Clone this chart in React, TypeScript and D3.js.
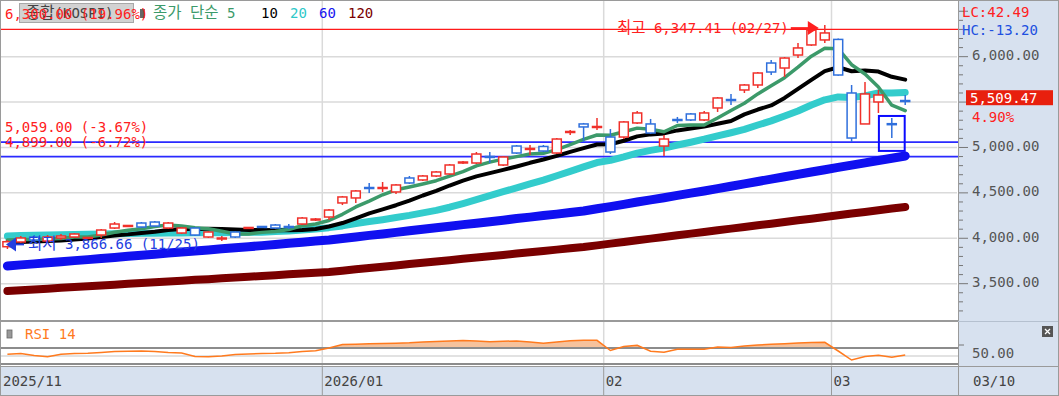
import React from "react";
import * as d3 from "d3";

// ---------- data ----------
const dates = ["11/26","11/27","11/28","12/01","12/02","12/03","12/04","12/05","12/08","12/09","12/10","12/11","12/12","12/15","12/16","12/17","12/18","12/19","12/22","12/23","12/24","12/26","12/29","12/30","01/02","01/05","01/06","01/07","01/08","01/09","01/12","01/13","01/14","01/15","01/16","01/19","01/20","01/21","01/22","01/23","01/26","01/27","01/28","01/29","01/30","02/02","02/03","02/04","02/05","02/06","02/09","02/10","02/11","02/12","02/13","02/19","02/20","02/23","02/24","02/25","02/26","02/27","03/03","03/04","03/05","03/06","03/09","03/10"];
const open = [3907,3959,4014,3970,4003,4014,3998,4036,4113,4130,4168,4179,4113,4058,4113,4014,3998,4069,4108,4130,4146,4130,4157,4201,4234,4389,4444,4559,4548,4510,4664,4642,4686,4708,4829,4829,4901,4807,5016,4978,5011,4939,5165,5259,5220,5115,5115,5270,5259,5016,5308,5369,5303,5435,5528,5633,5688,5930,5875,6018,6129,6184,6190,5600,5259,5501,5262,5517];
const high = [3981,4025,4036,4036,4047,4058,4014,4102,4179,4146,4179,4190,4179,4124,4124,4080,4025,4080,4124,4135,4157,4157,4234,4223,4322,4466,4532,4609,4620,4598,4686,4697,4741,4818,4851,4950,4950,4906,5027,5027,5027,5104,5192,5270,5325,5203,5292,5402,5314,5137,5336,5380,5402,5556,5589,5699,5831,5963,5996,6151,6316,6347.41,6200,5688,5721,5633,5325,5578];
const low = [3882,3948,3959,3948,3981,4003,3992,4003,4102,4124,4113,4124,4102,4047,4025,4003,3970,4003,4102,4113,4102,4102,4146,4190,4201,4366,4389,4499,4510,4488,4598,4631,4675,4697,4818,4818,4829,4796,4928,4917,4950,4928,5137,5060,5192,4928,5093,5259,5148,4906,5270,5292,5292,5391,5468,5600,5655,5798,5776,5985,6118,6151,5790,5060,5259,5380,5104,5468];
const close = [3962,4003,3981,4014,4025,4047,4009,4091,4157,4141,4124,4135,4168,4113,4036,4069,4003,4014,4119,4119,4113,4119,4223,4212,4311,4455,4521,4548,4559,4587,4609,4686,4730,4807,4840,4928,4890,4895,4939,4989,4961,5093,5176,5226,5231,4950,5281,5380,5159,5093,5297,5303,5380,5545,5517,5688,5820,5831,5985,6096,6294,6261,5798,5104,5589,5578,5252,5509.47];
const ma5 = [3981,3987,3987,3992,3998,4014,4015,4037,4066,4089,4104,4130,4145,4136,4115,4104,4078,4047,4048,4065,4074,4097,4139,4157,4196,4264,4345,4410,4479,4534,4565,4598,4634,4684,4734,4798,4839,4872,4899,4928,4935,4976,5032,5089,5137,5135,5173,5213,5200,5173,5242,5247,5247,5324,5408,5487,5590,5680,5769,5884,6005,6093,6087,5911,5809,5666,5465,5406];
const ma10 = [3959,3959,3965,3970,3976,3987,3998,4014,4031,4043,4059,4073,4091,4101,4102,4104,4103,4096,4092,4090,4089,4087,4092,4102,4130,4168,4220,4274,4318,4364,4414,4471,4522,4581,4634,4682,4718,4753,4791,4831,4867,4907,4951,4993,5033,5035,5074,5122,5144,5155,5188,5209,5230,5262,5291,5364,5418,5463,5546,5646,5745,5841,5883,5839,5847,5836,5778,5747];
const ma20 = [4025,4031,4033,4036,4038,4042,4045,4047,4049,4052,4054,4056,4058,4059,4060,4061,4062,4064,4065,4067,4074,4080,4092,4102,4117,4136,4162,4185,4205,4228,4252,4280,4307,4342,4382,4425,4469,4513,4555,4598,4641,4689,4737,4787,4834,4858,4896,4938,4968,4993,5027,5058,5091,5128,5162,5199,5247,5293,5346,5401,5467,5525,5557,5550,5568,5600,5599,5606];
const ma60 = [3695,3707,3718,3730,3742,3754,3765,3777,3789,3802,3813,3825,3837,3849,3860,3872,3884,3896,3907,3919,3932,3944,3956,3969,3981,3998,4015,4032,4048,4065,4082,4099,4115,4132,4150,4166,4183,4199,4217,4233,4250,4266,4284,4300,4325,4349,4374,4399,4423,4447,4472,4497,4521,4547,4573,4599,4625,4652,4677,4704,4730,4755,4781,4806,4830,4856,4881,4906];
const ma120 = [3419,3428,3437,3445,3454,3463,3472,3480,3489,3498,3507,3515,3524,3533,3542,3550,3559,3568,3577,3585,3594,3603,3612,3620,3629,3643,3658,3672,3687,3701,3716,3730,3745,3759,3774,3788,3803,3817,3832,3846,3861,3875,3890,3904,3922,3941,3959,3978,3996,4014,4033,4051,4069,4088,4106,4125,4143,4161,4180,4198,4216,4235,4253,4272,4290,4308,4327,4345];
const rsi14 = [54.3,56.3,51.3,48.3,54.3,56.3,56.8,58.8,61,61.8,62.5,61.3,58.8,57.5,48.8,48.3,50,53.8,55,56.3,56.8,58.3,61.3,63,70,78.8,79.5,80.5,81.3,82,83,85,86,87.5,88.8,87.5,85.8,87,87.5,85,82,85,88.3,89.3,89.3,63.8,73.8,77,62,59.3,66.8,66.8,66.8,72.5,71.3,75,77.5,79.3,80.8,82.5,83.8,84.3,62.5,40,48.8,51.8,46.8,52.5];

const gridTicks = [3500, 4000, 4500, 5000, 5500, 6000];
const labelTicks = [3500, 4000, 4500, 5000, 6000];
const axisMonths = [
  { date: "11/26", text: "2025/11", grid: false },
  { date: "01/02", text: "2026/01", grid: true },
  { date: "02/02", text: "02", grid: true },
  { date: "03/03", text: "03", grid: true },
];
const levelLines = [
  { value: 6300, text: "6,300.00 (19.96%)", line: "#ff1a1a", w: 1.2 },
  { value: 5059, text: "5,059.00 (-3.67%)", line: "#2a2aff", w: 1.6 },
  { value: 4899, text: "4,899.00 (-6.72%)", line: "#2a2aff", w: 1.6 },
];
const highMark = { date: "02/27", value: 6347.41, text: "최고 6,347.41 (02/27)" };
const lowMark = { value: 3866.66, text: "최저 3,866.66 (11/25)" };
const lastPrice = { value: 5509.47, text: "5,509.47", pct: "4.90%" };
const selBox = { date: "03/09", lowV: 4962, highV: 5347 };
const rsiLevels = { upper: 70, mid: 50, lower: 30 };
const legendItems = [
  { text: "종가 단순 5", color: "#3c9a6a", x: 153 },
  { text: "10", color: "#000000", x: 261 },
  { text: "20", color: "#2ec8c8", x: 290 },
  { text: "60", color: "#1414f0", x: 319 },
  { text: "120", color: "#7a0000", x: 348 },
];

// ---------- layout ----------
const W = 1059, H = 396;
const PR = 957;
const AX = 958;
const MAIN_B = 320;
const RSI_T = 322, RSI_B = 366;
const XA_T = 367;
const RED = "#f0302a", BLUE = "#2f6fdc";
const FONT = "'DejaVu Sans Mono', 'Noto Sans CJK KR', monospace";
const FS = 14;

const x = d3.scaleLinear().domain([0, dates.length - 1]).range([7.4, 905.2]);
const step = x(1) - x(0);
const y = d3.scaleLinear().domain([3100, 6602]).range([MAIN_B, 2]);
const ry = d3.scaleLinear().domain([rsiLevels.lower, rsiLevels.upper]).range([364, 348]);
const fmt = d3.format(",.2f");

const mkLine = (arr: number[]) =>
  d3.line<number>().x((_, i) => x(i)).y((d) => y(d))(arr) || "";

// Hangul runs a little larger, like the bitmap font of the original
function Mixed({ s }: { s: string }) {
  const parts = s.match(/([\uAC00-\uD7A3]+|[^\uAC00-\uD7A3]+)/g) || [];
  return (
    <>
      {parts.map((p, k) =>
        /[\uAC00-\uD7A3]/.test(p) ? (
          <tspan key={k} fontFamily="'Noto Sans CJK KR', sans-serif" fontSize={15.5}>{p}</tspan>
        ) : (
          <tspan key={k}>{p}</tspan>
        )
      )}
    </>
  );
}

export default function App() {
  const idx = (d: string) => dates.indexOf(d);
  const monthX = (d: string) => x(idx(d)) - step / 2;
  const rsiLine = d3.line<number>().x((_, i) => x(i)).y((d) => ry(d))(rsi14) || "";
  const rsiArea =
    d3.area<number>().x((_, i) => x(i)).y0(ry(rsiLevels.upper)).y1((d) => ry(d))(rsi14) || "";

  const minorTicks = d3.range(3200, 6600, 100);
  const hi = idx(highMark.date);
  const hiX = x(hi) - 6;
  const hiY = y(highMark.value) + 3;
  const lowY = y(lowMark.value) - 6;
  const lpY = y(lastPrice.value) - 3.5;
  const sb = idx(selBox.date);

  return (
    <div style={{ position: "fixed", left: 0, top: 0, width: W, height: H, background: "#fff" }}>
      <svg width={W} height={H} style={{ display: "block" }} fontFamily={FONT} fontSize={FS}>
        <defs>
          <clipPath id="plotClip">
            <rect x={0} y={0} width={PR} height={MAIN_B} />
          </clipPath>
          <clipPath id="rsiAbove">
            <rect x={0} y={RSI_T} width={PR} height={ry(rsiLevels.upper) - RSI_T} />
          </clipPath>
        </defs>
        <rect x={0} y={0} width={W} height={H} fill="#fff" />

        {/* main grid */}
        {gridTicks.map((t) => (
          <line key={t} x1={0} x2={PR} y1={y(t)} y2={y(t)} stroke="#dadada" strokeWidth={1.5} />
        ))}
        {axisMonths.filter((m) => m.grid).map((m) => (
          <g key={m.text}>
            <line x1={monthX(m.date)} x2={monthX(m.date)} y1={0} y2={MAIN_B} stroke="#dadada" strokeWidth={1.5} />
            <line x1={monthX(m.date)} x2={monthX(m.date)} y1={RSI_T} y2={RSI_B} stroke="#dadada" strokeWidth={1.5} />
          </g>
        ))}

        {/* level lines */}
        {levelLines.map((l) => (
          <line key={l.value} x1={0} x2={AX} y1={y(l.value)} y2={y(l.value)} stroke={l.line} strokeWidth={l.w} />
        ))}

        {/* moving averages */}
        <g clipPath="url(#plotClip)" fill="none" strokeLinecap="round" strokeLinejoin="round">
          <path d={mkLine(ma120)} stroke="#7a0000" strokeWidth={8} />
          <path d={mkLine(ma60)} stroke="#1010f0" strokeWidth={9} />
          <path d={mkLine(ma20)} stroke="#33cccc" strokeWidth={7} />
          <path d={mkLine(ma10)} stroke="#000" strokeWidth={4} />
          <path d={mkLine(ma5)} stroke="#3c9a6a" strokeWidth={3.5} />
        </g>

        {/* candles */}
        {dates.map((d, i) => {
          const up = close[i] >= open[i];
          const c = up ? RED : BLUE;
          const cx = x(i);
          const top = y(Math.max(open[i], close[i]));
          const bot = y(Math.min(open[i], close[i]));
          const h = Math.max(bot - top, 1);
          return (
            <g key={d}>
              <line x1={cx} x2={cx} y1={y(high[i])} y2={y(low[i])} stroke={c} strokeWidth={1.5} />
              <rect x={cx - 4.5} y={top} width={9} height={h} fill="#fff" stroke={c} strokeWidth={1.5} />
            </g>
          );
        })}

        {/* selection box */}
        <rect x={x(sb) - step + 0.5} y={y(selBox.highV)} width={step * 2 - 1} height={y(selBox.lowV) - y(selBox.highV)} fill="none" stroke="#0a0aff" strokeWidth={2} />

        {/* legend box (under the red level label, as in the original) */}
        <rect x={19.5} y={3.5} width={114} height={19} fill="#d2d2d2" stroke="#a8a8a8" />
        <text x={26} y={18} fill="#444"><Mixed s="종합(KOSPI)" /></text>
        <rect x={140} y={9} width={5} height={9} fill="#666" />
        {legendItems.map((l) => (
          <text key={l.text} x={l.x} y={18} fill={l.color}><Mixed s={l.text} /></text>
        ))}

        {/* level labels */}
        {levelLines.map((l) => (
          <text key={"t" + l.value} x={5} y={y(l.value) - 10} fill="#ff2020">{l.text}</text>
        ))}

        {/* high marker */}
        <text x={hiX - 30} y={hiY + 5} fill="#ff2020" textAnchor="end"><Mixed s={highMark.text} /></text>
        <line x1={hiX - 28} x2={hiX - 8} y1={hiY} y2={hiY} stroke="#ff2020" strokeWidth={2} />
        <path d={`M${hiX - 11},${hiY - 7}L${hiX},${hiY}L${hiX - 11},${hiY + 7}Z`} fill="#ff2020" />

        {/* low marker */}
        <path d={`M${6},${lowY}L${16},${lowY - 7}L${16},${lowY + 7}Z`} fill="#2340e0" />
        <line x1={14} x2={24} y1={lowY} y2={lowY} stroke="#2340e0" strokeWidth={2} />
        <text x={28} y={lowY + 5} fill="#2340e0"><Mixed s={lowMark.text} /></text>

        {/* separators */}
        <line x1={0} x2={AX} y1={321} y2={321} stroke="#9a9a9a" strokeWidth={2} />

        {/* RSI panel */}
        <path d={rsiArea} fill="#f6c29c" clipPath="url(#rsiAbove)" />
        <line x1={0} x2={AX} y1={ry(rsiLevels.upper)} y2={ry(rsiLevels.upper)} stroke="#8c8c8c" strokeWidth={2} />
        <line x1={0} x2={AX} y1={ry(rsiLevels.mid)} y2={ry(rsiLevels.mid)} stroke="#d8d8d8" strokeWidth={1.5} />
        <line x1={0} x2={AX} y1={ry(rsiLevels.lower)} y2={ry(rsiLevels.lower)} stroke="#8c8c8c" strokeWidth={2} />
        <path d={rsiLine} fill="none" stroke="#ff7a1e" strokeWidth={1.5} />
        <rect x={7} y={330} width={5} height={8} fill="#999" stroke="#666" strokeWidth={0.8} />
        <text x={25} y={339} fill="#ff7a1e">RSI 14</text>

        {/* right axis panel */}
        <rect x={AX} y={0} width={W - AX} height={H} fill="#d7e1ef" />
        <line x1={AX + 0.5} x2={AX + 0.5} y1={0} y2={H} stroke="#9a9a9a" />
        {minorTicks.map((t) => (
          <line key={t} x1={AX + 1} x2={AX + (t % 500 === 0 ? 10 : 5)} y1={y(t)} y2={y(t)} stroke="#777" />
        ))}
        {labelTicks.map((t) => (
          <text key={t} x={972} y={y(t) + 3.5} fill="#555">{fmt(t)}</text>
        ))}
        <text x={962} y={17} fill="#ff2020">LC:42.49</text>
        <text x={962} y={35} fill="#2050e0">HC:-13.20</text>
        <rect x={966} y={lpY - 7.5} width={87} height={15} fill="#e8200e" />
        <text x={970} y={lpY + 5} fill="#fff">{lastPrice.text}</text>
        <text x={972} y={lpY + 24} fill="#ff2020">{lastPrice.pct}</text>

        {/* RSI axis */}
        <line x1={AX + 1} x2={AX + 6} y1={ry(rsiLevels.upper) - 3} y2={ry(rsiLevels.upper) - 3} stroke="#777" />
        <text x={972} y={ry(rsiLevels.mid) + 2} fill="#555">{fmt(rsiLevels.mid)}</text>
        <rect x={1042} y={326} width={11} height={11} fill="#555" />
        <path d="M1045,329L1050,334M1050,329L1045,334" stroke="#fff" strokeWidth={1.3} />
        <line x1={AX} x2={W} y1={RSI_T - 0.5} y2={RSI_T - 0.5} stroke="#b5c0cf" />

        {/* x-axis panel */}
        <rect x={0} y={XA_T} width={W} height={H - XA_T} fill="#d7e1ef" />
        <line x1={0} x2={W} y1={XA_T - 0.5} y2={XA_T - 0.5} stroke="#9a9a9a" />
        {axisMonths.map((m, k) => (
          <g key={m.text}>
            {m.grid && <line x1={monthX(m.date)} x2={monthX(m.date)} y1={XA_T} y2={H} stroke="#9a9a9a" />}
            <text x={k === 0 ? 3 : monthX(m.date) + 2} y={386} fill="#444">{m.text}</text>
          </g>
        ))}
        <line x1={AX + 0.5} x2={AX + 0.5} y1={XA_T} y2={H} stroke="#9a9a9a" />
        <text x={973} y={386} fill="#444">{dates[dates.length - 1]}</text>

        {/* frame */}
        <rect x={0.5} y={0.5} width={W - 1} height={H - 1} fill="none" stroke="#9a9a9a" />
      </svg>
    </div>
  );
}
